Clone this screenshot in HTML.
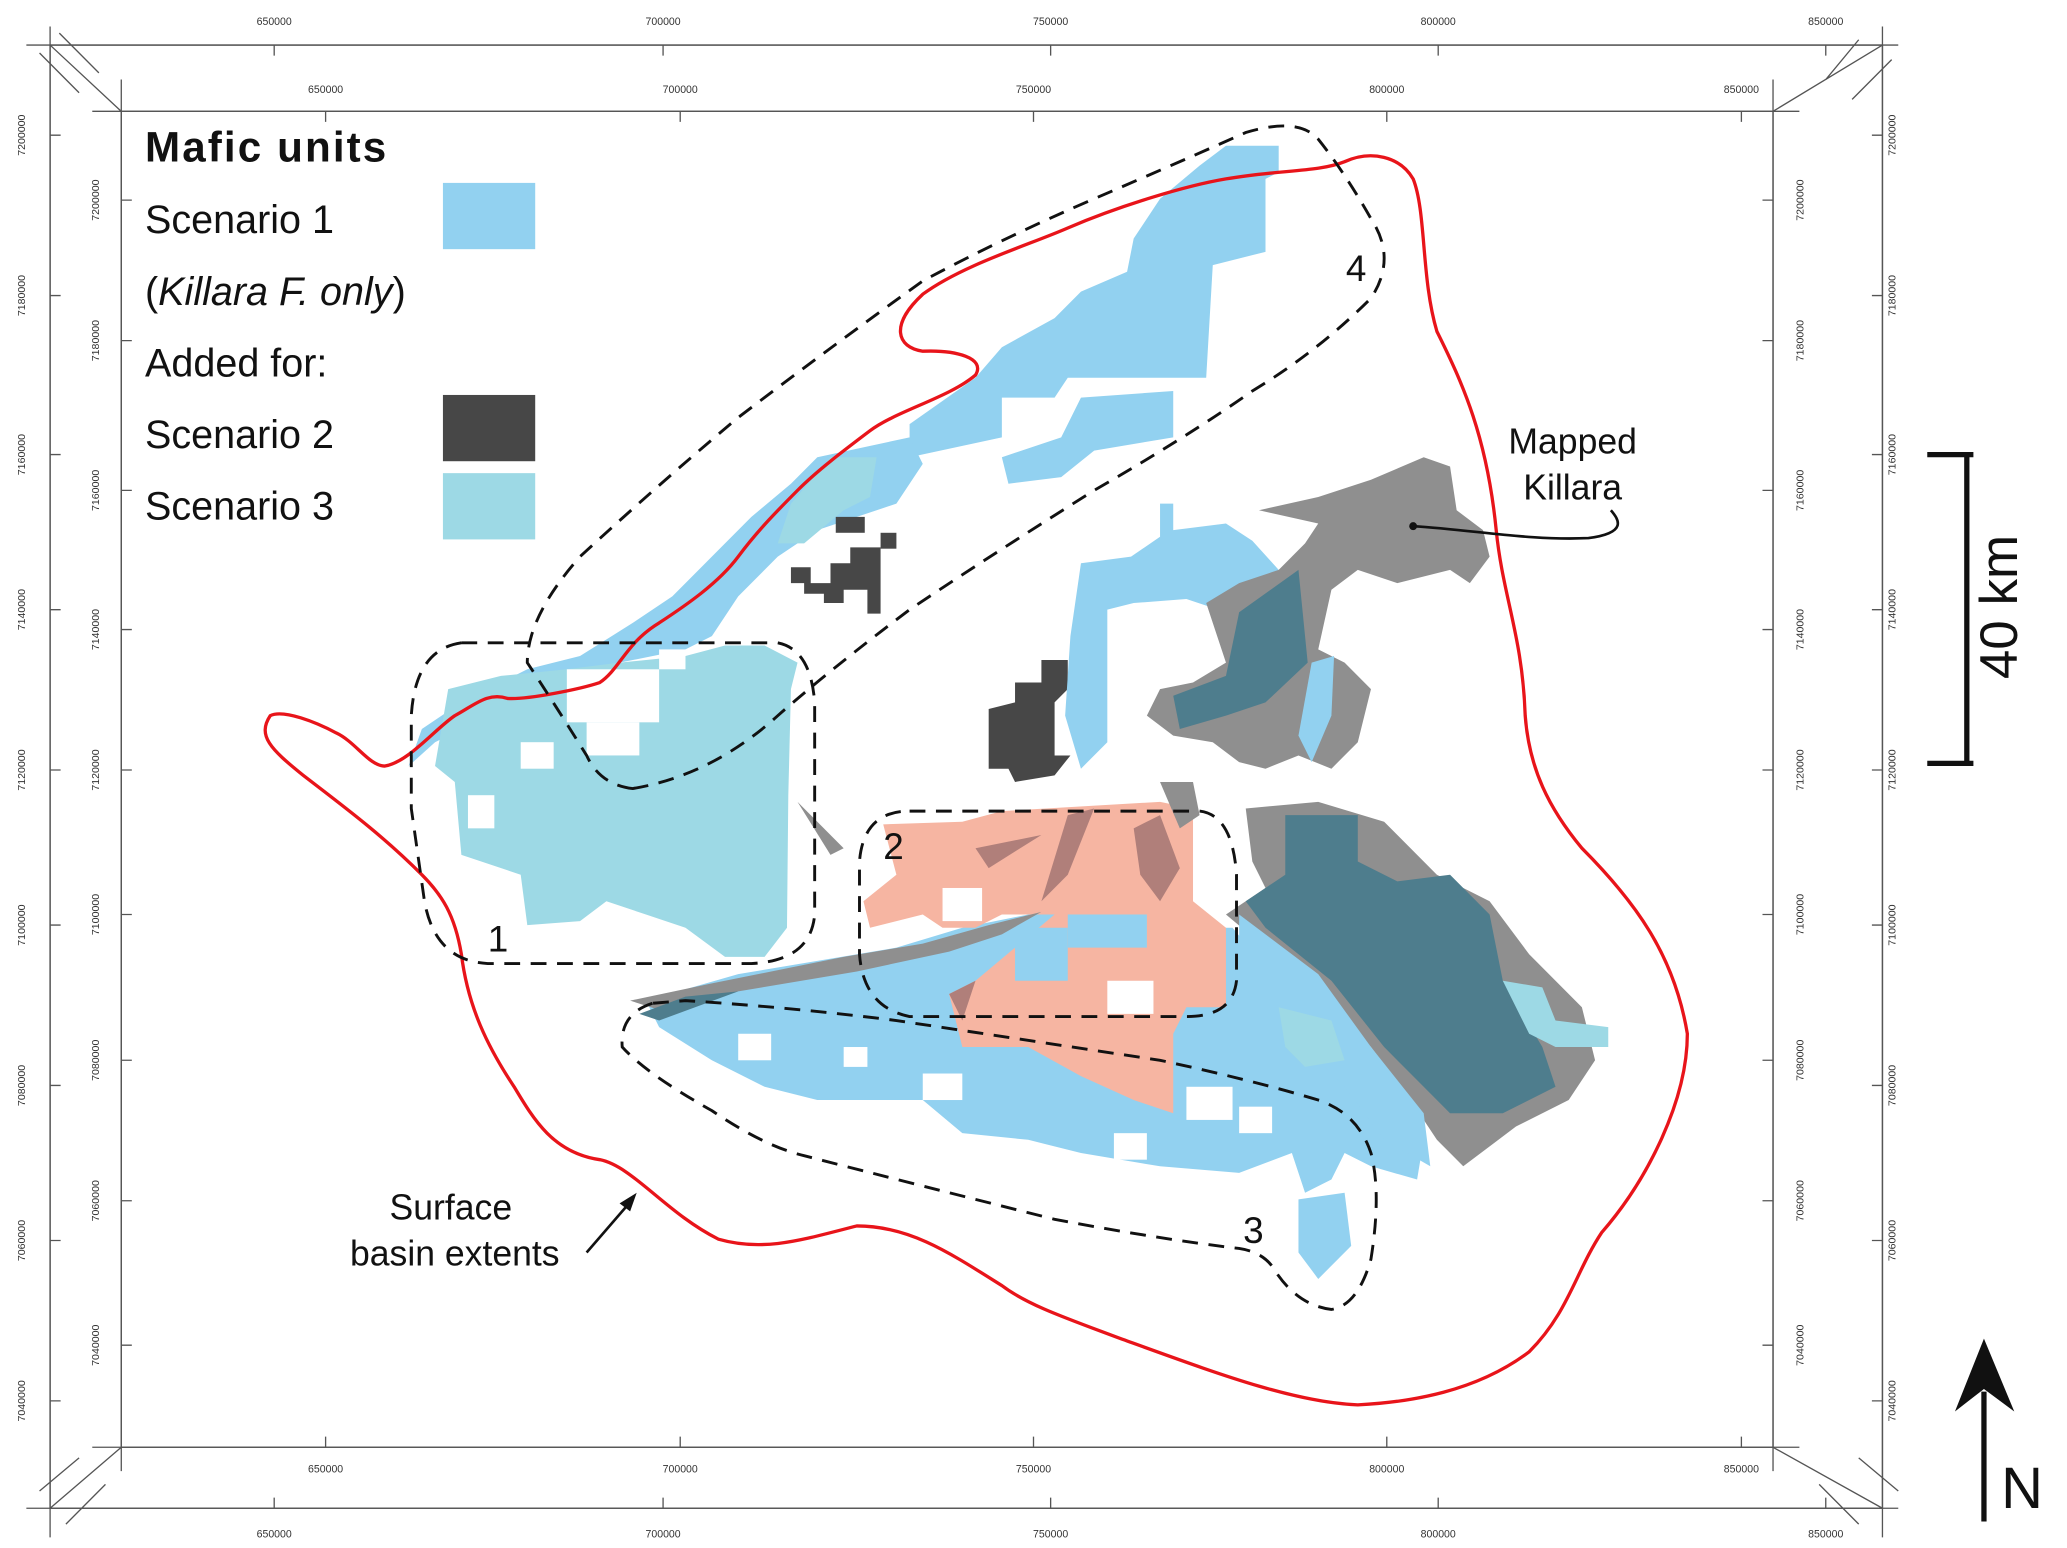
<!DOCTYPE html>
<html><head><meta charset="utf-8"><style>
html,body{margin:0;padding:0;background:#fff;}
svg{display:block;}
text{font-family:"Liberation Sans",sans-serif;}
</style></head><body>
<svg width="2067" height="1548" viewBox="0 0 1568 1168" preserveAspectRatio="none" xmlns="http://www.w3.org/2000/svg">
<rect width="1568" height="1168" fill="#fff"/>
<!-- frames -->
<g stroke="#555" stroke-width="1" fill="none">
<rect x="38" y="34" width="1390" height="1104"/>
<rect x="92" y="84" width="1253" height="1008"/>
<line x1="20" y1="34" x2="1440" y2="34"/><line x1="20" y1="1138" x2="1440" y2="1138"/>
<line x1="38" y1="20" x2="38" y2="1160"/><line x1="1428" y1="20" x2="1428" y2="1160"/>
<line x1="70" y1="84" x2="1365" y2="84"/><line x1="70" y1="1092" x2="1365" y2="1092"/>
<line x1="92" y1="60" x2="92" y2="1110"/><line x1="1345" y1="60" x2="1345" y2="1110"/>
<path d="M38,34 L92,84 M30,40 L60,70 M45,25 L75,55 M1428,34 L1345,84 M1410,30 L1385,60 M1435,45 L1405,75 M38,1138 L92,1092 M30,1125 L60,1100 M50,1150 L80,1120 M1428,1138 L1345,1092 M1410,1150 L1380,1120 M1440,1125 L1410,1100"/>
<path d="M208,34v8M503,34v8M797,34v8M1091,34v8M1385,34v8M208,1138v-8M503,1138v-8M797,1138v-8M1091,1138v-8M1385,1138v-8M247,84v8M516,84v8M784,84v8M1052,84v8M1321,84v8M247,1092v-8M516,1092v-8M784,1092v-8M1052,1092v-8M1321,1092v-8"/>
<path d="M38,102h8M38,223h8M38,343h8M38,460h8M38,581h8M38,698h8M38,819h8M38,936h8M38,1057h8M1428,102h-8M1428,223h-8M1428,343h-8M1428,460h-8M1428,581h-8M1428,698h-8M1428,819h-8M1428,936h-8M1428,1057h-8M92,151h8M92,257h8M92,370h8M92,475h8M92,581h8M92,690h8M92,800h8M92,906h8M92,1015h8M1345,151h-8M1345,257h-8M1345,370h-8M1345,475h-8M1345,581h-8M1345,690h-8M1345,800h-8M1345,906h-8M1345,1015h-8"/>
</g>
<g font-size="8" fill="#333" text-anchor="middle">
<text x="208" y="19">650000</text><text x="503" y="19">700000</text><text x="797" y="19">750000</text><text x="1091" y="19">800000</text><text x="1385" y="19">850000</text>
<text x="247" y="70">650000</text><text x="516" y="70">700000</text><text x="784" y="70">750000</text><text x="1052" y="70">800000</text><text x="1321" y="70">850000</text>
<text x="247" y="1111">650000</text><text x="516" y="1111">700000</text><text x="784" y="1111">750000</text><text x="1052" y="1111">800000</text><text x="1321" y="1111">850000</text>
<text x="208" y="1160">650000</text><text x="503" y="1160">700000</text><text x="797" y="1160">750000</text><text x="1091" y="1160">800000</text><text x="1385" y="1160">850000</text>
</g>
<g font-size="8" fill="#333" text-anchor="middle">
<text transform="translate(19,102) rotate(-90)">7200000</text><text transform="translate(19,223) rotate(-90)">7180000</text><text transform="translate(19,343) rotate(-90)">7160000</text><text transform="translate(19,460) rotate(-90)">7140000</text><text transform="translate(19,581) rotate(-90)">7120000</text><text transform="translate(19,698) rotate(-90)">7100000</text><text transform="translate(19,819) rotate(-90)">7080000</text><text transform="translate(19,936) rotate(-90)">7060000</text><text transform="translate(19,1057) rotate(-90)">7040000</text>
<text transform="translate(75,151) rotate(-90)">7200000</text><text transform="translate(75,257) rotate(-90)">7180000</text><text transform="translate(75,370) rotate(-90)">7160000</text><text transform="translate(75,475) rotate(-90)">7140000</text><text transform="translate(75,581) rotate(-90)">7120000</text><text transform="translate(75,690) rotate(-90)">7100000</text><text transform="translate(75,800) rotate(-90)">7080000</text><text transform="translate(75,906) rotate(-90)">7060000</text><text transform="translate(75,1015) rotate(-90)">7040000</text>
<text transform="translate(1368,151) rotate(-90)">7200000</text><text transform="translate(1368,257) rotate(-90)">7180000</text><text transform="translate(1368,370) rotate(-90)">7160000</text><text transform="translate(1368,475) rotate(-90)">7140000</text><text transform="translate(1368,581) rotate(-90)">7120000</text><text transform="translate(1368,690) rotate(-90)">7100000</text><text transform="translate(1368,800) rotate(-90)">7080000</text><text transform="translate(1368,906) rotate(-90)">7060000</text><text transform="translate(1368,1015) rotate(-90)">7040000</text>
<text transform="translate(1438,102) rotate(-90)">7200000</text><text transform="translate(1438,223) rotate(-90)">7180000</text><text transform="translate(1438,343) rotate(-90)">7160000</text><text transform="translate(1438,460) rotate(-90)">7140000</text><text transform="translate(1438,581) rotate(-90)">7120000</text><text transform="translate(1438,698) rotate(-90)">7100000</text><text transform="translate(1438,819) rotate(-90)">7080000</text><text transform="translate(1438,936) rotate(-90)">7060000</text><text transform="translate(1438,1057) rotate(-90)">7040000</text>
</g>
<!-- scenario 1 NE band -->
<path fill="#92d1f0" d="M930,110 L970,110 L970,130 L960,135 L960,190 L920,200 L915,285 L810,285 L800,300 L760,300 L760,330 L690,345 L690,320 L740,285 L760,262 L800,240 L820,220 L855,205 L860,180 L880,150 L910,125 Z"/>
<path fill="#92d1f0" d="M820,300 L890,295 L890,330 L830,340 L805,360 L765,365 L760,345 L805,330 Z"/>
<path fill="#92d1f0" d="M620,345 L690,330 L700,350 L680,380 L650,390 L620,400 L590,420 L560,450 L540,480 L520,490 L470,500 L420,520 L390,530 L360,545 L330,560 L310,578 L320,550 L350,530 L400,505 L440,495 L480,470 L510,450 L540,420 L570,390 L600,365 Z"/>
<!-- scenario 3 region 1 -->
<path fill="#9dd9e5" d="M340,520 L380,510 L430,505 L470,500 L520,495 L550,487 L580,487 L605,500 L600,520 L598,600 L597,700 L580,722 L550,722 L520,700 L490,690 L460,680 L440,695 L400,698 L395,660 L350,645 L345,590 L330,578 Z"/>
<path fill="#9dd9e5" d="M600,380 L630,345 L665,345 L660,375 L640,385 L610,410 L590,410 Z"/>
<g fill="#fff"><rect x="430" y="505" width="70" height="40"/><rect x="445" y="545" width="40" height="25"/><rect x="355" y="600" width="20" height="25"/><rect x="395" y="560" width="25" height="20"/><rect x="500" y="490" width="20" height="15"/></g>
<!-- scenario 2 -->
<g fill="#474747">
<path d="M790,498 L810,498 L810,520 L800,530 L800,570 L812,570 L800,585 L770,590 L765,580 L750,580 L750,535 L770,530 L770,515 L790,515 Z"/>
<path d="M600,428 L615,428 L615,440 L630,440 L630,425 L645,425 L645,413 L668,413 L668,463 L658,463 L658,445 L640,445 L640,455 L625,455 L625,448 L610,448 L610,440 L600,440 Z"/>
<rect x="634" y="390" width="22" height="12"/><rect x="668" y="402" width="12" height="12"/>
</g>
<!-- central blue -->
<path fill="#92d1f0" d="M820,425 L858,420 L880,405 L880,380 L890,380 L890,400 L930,395 L950,408 L970,430 L985,440 L975,465 L930,462 L900,452 L860,455 L840,460 L840,560 L820,580 L808,540 L812,480 Z"/>
<!-- mapped killara NE -->
<path fill="#8f8f8f" d="M955,385 L1000,375 L1040,362 L1080,345 L1100,352 L1105,385 L1125,400 L1130,420 L1115,440 L1100,430 L1060,440 L1030,430 L1010,445 L1000,490 L1020,500 L1040,520 L1030,560 L1010,580 L985,570 L960,580 L940,575 L920,560 L890,555 L870,540 L880,520 L905,515 L930,500 L920,470 L915,455 L940,440 L970,430 L990,410 L1000,395 Z"/>
<path fill="#4e7d8d" d="M940,462 L985,430 L992,500 L960,530 L930,540 L895,550 L890,525 L930,510 Z"/>
<path fill="#92d1f0" d="M995,500 L1012,495 L1010,540 L995,575 L985,555 Z"/>
<!-- south blue band -->
<path fill="#92d1f0" d="M490,755 L560,735 L620,725 L680,715 L730,700 L780,690 L840,680 L880,680 L910,700 L935,700 L960,730 L1000,760 L1030,790 L1060,820 L1080,860 L1075,890 L1040,880 L1020,870 L1010,890 L990,900 L980,870 L940,885 L880,880 L820,870 L780,860 L730,855 L700,830 L620,830 L580,820 L540,800 L500,775 Z"/>
<path fill="#92d1f0" d="M985,905 L1020,900 L1025,940 L1000,965 L985,945 Z"/>
<g fill="#fff"><rect x="560" y="780" width="25" height="20"/><rect x="640" y="790" width="18" height="15"/><rect x="900" y="820" width="35" height="25"/><rect x="940" y="835" width="25" height="20"/><rect x="700" y="810" width="30" height="20"/><rect x="845" y="855" width="25" height="20"/></g>
<!-- salmon -->
<path fill="#f6b5a2" d="M670,622 L730,620 L760,612 L880,605 L905,610 L905,680 L930,700 L930,760 L900,760 L890,780 L890,840 L860,830 L820,812 L780,790 L730,790 L720,750 L740,740 L770,715 L800,690 L760,690 L740,700 L715,700 L700,690 L660,700 L655,680 L680,660 Z"/>
<g fill="#fff"><rect x="715" y="670" width="30" height="25"/><rect x="840" y="740" width="35" height="25"/></g>
<g fill="#92d1f0"><rect x="810" y="690" width="60" height="25"/><rect x="770" y="700" width="40" height="40"/></g>
<g fill="#b07f7a"><path d="M810,615 L830,610 L810,660 L790,680 Z"/><path d="M860,625 L880,615 L895,655 L880,680 L865,660 Z"/><path d="M740,640 L790,630 L750,655 Z"/><path d="M720,750 L740,740 L730,770 Z"/></g>
<!-- gray sliver -->
<path fill="#8f8f8f" d="M478,755 L540,742 L600,730 L640,722 L700,712 L750,698 L790,688 L760,705 L720,718 L650,733 L560,748 L500,762 Z"/>
<path fill="#4e7d8d" d="M485,765 L520,752 L560,748 L500,770 Z"/>
<!-- mapped killara south -->
<path fill="#8f8f8f" d="M945,610 L1000,605 L1050,620 L1090,660 L1130,680 L1160,720 L1200,760 L1210,800 L1190,830 L1150,850 L1110,880 L1100,870 L1090,860 L1070,830 L1040,790 L1000,750 L960,715 L930,690 L960,670 L950,650 Z"/>
<path fill="#4e7d8d" d="M975,615 L1030,615 L1030,650 L1060,665 L1100,660 L1130,690 L1140,740 L1170,790 L1180,820 L1140,840 L1100,840 L1080,820 L1050,790 L1010,740 L960,700 L945,680 L975,660 Z"/>
<path fill="#92d1f0" d="M940,690 L1000,735 L1040,790 L1080,840 L1085,880 L1050,860 L1020,820 L990,790 L960,770 L940,740 Z"/>
<path fill="#9dd9e5" d="M1140,740 L1170,745 L1180,770 L1220,775 L1220,790 L1180,790 L1160,780 Z"/>
<path fill="#9dd9e5" d="M970,760 L1010,770 L1020,800 L990,805 L975,790 Z"/>
<path fill="#8f8f8f" d="M880,590 L905,590 L910,615 L895,625 Z"/><path fill="#8f8f8f" d="M605,605 L640,640 L630,645 Z"/>
<!-- red outline -->
<path fill="none" stroke="#e8141a" stroke-width="2.5" d="M205,540 C215,535 240,545 255,553 C270,560 280,578 292,578 C310,575 330,550 345,540 C360,532 370,522 385,527 C400,528 440,520 455,515 C470,505 475,485 500,470 C520,457 545,440 560,420 C575,400 590,385 605,370 C620,355 640,340 660,325 C680,310 720,300 740,283 C748,270 725,264 700,265 C680,262 675,245 700,222 C730,200 780,185 810,172 C850,155 900,140 930,135 C970,128 1000,130 1020,122 C1040,113 1062,118 1072,135 C1082,160 1078,210 1090,250 C1110,290 1128,330 1135,400 C1140,450 1155,480 1157,540 C1160,580 1175,610 1200,640 C1240,680 1270,720 1280,780 C1280,830 1250,890 1215,930 C1195,960 1190,990 1160,1020 C1120,1050 1070,1058 1030,1060 C980,1058 920,1035 850,1010 C810,995 780,985 760,970 C720,945 690,925 650,925 C610,935 580,945 545,935 C505,915 480,880 455,875 C420,870 405,845 390,820 C370,790 355,760 350,720 C345,690 335,675 320,660 C290,630 260,608 230,585 C205,565 195,555 205,540 Z"/>
<!-- dashed regions -->
<g fill="none" stroke="#111" stroke-width="2.2" stroke-dasharray="12,8">
<path d="M350,485 L590,485 Q615,490 618,530 L618,690 Q615,725 570,727 L370,727 Q330,725 322,680 L312,610 L312,540 Q315,490 350,485 Z"/>
<path d="M690,612 L910,612 Q935,615 938,660 L938,740 Q935,767 900,767 L690,767 Q655,760 652,720 L652,650 Q655,612 690,612 Z"/>
<path d="M495,757 Q470,765 472,790 Q490,810 540,838 Q580,865 610,872 Q700,895 800,920 Q880,935 940,942 Q960,945 968,960 Q985,985 1010,988 Q1030,985 1040,950 Q1048,900 1040,870 Q1030,840 1000,830 Q950,815 880,800 Q780,785 680,770 Q600,760 520,755 Z"/>
<path d="M480,595 Q455,592 445,570 Q420,530 400,500 Q400,465 440,420 Q500,365 560,315 Q630,262 700,212 Q760,180 830,150 Q900,120 945,100 Q985,88 1000,105 Q1020,130 1040,165 Q1060,195 1040,225 Q1000,265 950,295 Q900,330 830,370 Q750,420 690,460 Q630,505 590,540 Q540,585 480,595 Z"/>
</g>
<g font-size="28" fill="#111"><text x="370" y="718">1</text><text x="670" y="648">2</text><text x="943" y="938">3</text><text x="1021" y="212">4</text></g>
<!-- legend -->
<text x="110" y="122" font-size="32" font-weight="bold" fill="#111" textLength="183">Mafic units</text>
<text x="110" y="176" font-size="30" fill="#111">Scenario 1</text>
<rect x="336" y="138" width="70" height="50" fill="#92d1f0"/>
<text x="110" y="230" font-size="30" fill="#111">(<tspan font-style="italic">Killara F. only</tspan>)</text>
<text x="110" y="284" font-size="30" fill="#111">Added for:</text>
<text x="110" y="338" font-size="30" fill="#111">Scenario 2</text>
<rect x="336" y="298" width="70" height="50" fill="#474747"/>
<text x="110" y="392" font-size="30" fill="#111">Scenario 3</text>
<rect x="336" y="357" width="70" height="50" fill="#9dd9e5"/>
<!-- annotations -->
<text x="1193" y="342" font-size="27" fill="#111" text-anchor="middle">Mapped</text>
<text x="1193" y="377" font-size="27" fill="#111" text-anchor="middle">Killara</text>
<path d="M1072,397 C1120,400 1160,408 1205,406 C1235,402 1228,392 1222,385" fill="none" stroke="#111" stroke-width="2"/>
<circle cx="1072" cy="397" r="3" fill="#111"/>
<text x="342" y="920" font-size="27" fill="#111" text-anchor="middle">Surface</text>
<text x="345" y="955" font-size="27" fill="#111" text-anchor="middle">basin extents</text>
<line x1="445" y1="945" x2="478" y2="907" stroke="#111" stroke-width="2"/>
<path d="M483,900 L470,908 L478,914 Z" fill="#111"/>
<!-- scale bar -->
<g stroke="#111" stroke-width="4"><line x1="1492" y1="343" x2="1492" y2="576"/><line x1="1462" y1="343" x2="1497" y2="343"/><line x1="1462" y1="576" x2="1497" y2="576"/></g>
<text transform="translate(1530,458) rotate(-90)" font-size="40" fill="#111" text-anchor="middle">40 km</text>
<!-- north arrow -->
<line x1="1505" y1="1050" x2="1505" y2="1148" stroke="#111" stroke-width="4"/>
<path d="M1505,1010 L1528,1065 L1505,1048 L1483,1065 Z" fill="#111"/>
<text x="1518" y="1138" font-size="44" fill="#111">N</text>
</svg>
</body></html>
